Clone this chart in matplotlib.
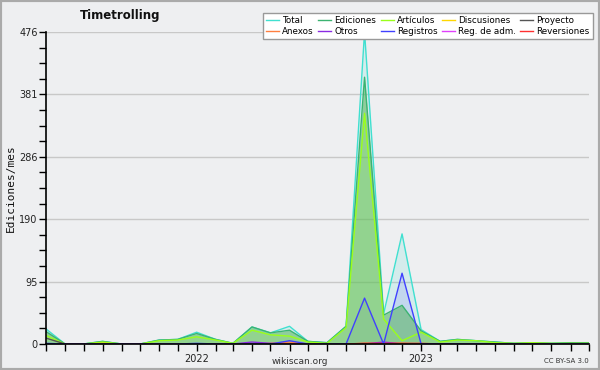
import numpy as np
import matplotlib
matplotlib.use("Agg")
import matplotlib.pyplot as plt
import matplotlib.dates as mdates
import pandas as pd

# meses: mayo 2021 - octubre 2023
meses = pd.date_range("2021-05-01", "2023-10-01", freq="MS")

total = [23, 0, 0, 4, 0, 0, 6, 7, 18, 7, 1, 26, 17, 27, 4, 2, 27, 476, 46, 168, 22, 4, 7, 5, 3, 1, 2, 1, 2, 2]
ediciones = [19, 0, 0, 4, 0, 0, 6, 7, 16, 7, 1, 26, 17, 21, 4, 2, 27, 407, 44, 59, 20, 4, 7, 5, 3, 1, 2, 1, 2, 2]
articulos = [13, 0, 0, 3, 0, 0, 5, 6, 11, 6, 1, 21, 14, 12, 3, 1, 25, 352, 38, 5, 18, 3, 6, 5, 2, 1, 2, 1, 1, 1]
discusiones = [0, 0, 0, 1, 0, 0, 0, 0, 0, 0, 0, 0, 0, 0, 0, 0, 0, 0, 0, 0, 0, 0, 0, 0, 0, 0, 0, 0, 0, 0]
proyecto = [9, 0, 0, 0, 0, 0, 0, 0, 0, 0, 0, 0, 0, 0, 0, 0, 0, 0, 0, 0, 0, 0, 0, 0, 0, 0, 0, 0, 0, 0]
anexos = [0, 0, 0, 0, 0, 0, 0, 0, 0, 0, 0, 0, 1, 3, 0, 0, 0, 1, 1, 1, 0, 0, 0, 0, 0, 0, 0, 0, 0, 0]
otros = [0, 0, 0, 0, 0, 0, 0, 0, 0, 0, 0, 3, 1, 0, 0, 0, 0, 0, 3, 0, 0, 0, 0, 0, 0, 0, 0, 0, 0, 0]
registros = [1, 0, 0, 0, 0, 0, 0, 0, 1, 0, 0, 0, 0, 5, 0, 0, 0, 70, 0, 108, 0, 0, 0, 0, 0, 0, 0, 0, 0, 0]
reg_adm = [0] * 30
reversiones = [0, 0, 0, 0, 0, 0, 0, 0, 0, 0, 0, 0, 0, 0, 0, 0, 0, 1, 1, 1, 1, 0, 0, 0, 0, 0, 0, 0, 0, 0]

fondo = "#eeeff1"
fig = plt.figure(figsize=(6, 3.7), dpi=100, facecolor=fondo)
ax = fig.add_axes([46/600, 26/370, 543/600, 312/370])
ax.set_facecolor(fondo)

# rellenos
ax.fill_between(meses, total, color="#40e0d0", alpha=0.15, lw=0)
ax.fill_between(meses, registros, color="#4444ff", alpha=0.12, lw=0)
ax.fill_between(meses, ediciones, color="#4caf50", alpha=0.5, lw=0)
ax.fill_between(meses, articulos, color="#adff2f", alpha=0.12, lw=0)

series = [
    ("Total", total, "#40e0d0"),
    ("Anexos", anexos, "#ff7f3f"),
    ("Ediciones", ediciones, "#3cb371"),
    ("Otros", otros, "#8a2be2"),
    ("Artículos", articulos, "#9aff1a"),
    ("Registros", registros, "#4040ff"),
    ("Discusiones", discusiones, "#ffd700"),
    ("Reg. de adm.", reg_adm, "#e040fb"),
    ("Proyecto", proyecto, "#555555"),
    ("Reversiones", reversiones, "#ff3030"),
]
orden_dibujo = ["Total", "Ediciones", "Artículos", "Proyecto", "Discusiones",
                "Anexos", "Otros", "Reg. de adm.", "Reversiones", "Registros"]
lineas = {}
for nombre in orden_dibujo:
    for n, v, c in series:
        if n == nombre:
            lineas[n], = ax.plot(meses, v, color=c, lw=1, label=n)

ax.set_xlim(meses[0], meses[-1])
ax.set_ylim(0, 476)
ax.set_yticks(np.linspace(0, 476, 6))
ax.set_yticklabels(["0", "95", "190", "286", "381", "476"])
ax.set_yticks(np.linspace(0, 476, 21), minor=True)
ax.xaxis.set_minor_locator(mdates.MonthLocator())
ax.xaxis.set_major_locator(mdates.YearLocator())
ax.xaxis.set_major_formatter(mdates.DateFormatter("%Y"))
ax.tick_params(axis="both", labelsize=7, length=5, width=1, color="black", labelcolor="#222222")
ax.tick_params(axis="both", which="minor", length=5, width=1)
ax.tick_params(axis="x", pad=2)
ax.tick_params(axis="y", pad=1)
ax.grid(axis="y", color="#c8c8c8", lw=1)
ax.set_axisbelow(True)
for s in ["top", "right"]:
    ax.spines[s].set_visible(False)
ax.spines["left"].set_linewidth(1.2)
ax.spines["bottom"].set_linewidth(1.2)

# etiqueta del eje y
fig.text(11/600, 1 - 188/370, "Ediciones/mes", fontsize=8, family="DejaVu Sans Mono",
         rotation=90, ha="center", va="center", color="#111111")

fig.text(120/600, 1 - 15/370, "Timetrolling", fontsize=8.5, fontweight="bold",
         ha="center", va="center", color="#111111")

handles = [lineas[n] for n, v, c in series]
leg = fig.legend(handles, [n for n, v, c in series], ncol=5, loc="upper right",
                 bbox_to_anchor=(597/600, 1 - 9/370), fontsize=6.3, frameon=True,
                 fancybox=False, handlelength=1.5, handletextpad=0.35,
                 columnspacing=0.5, labelspacing=0.15, borderpad=0.35)
leg.get_frame().set_edgecolor("#999999")
leg.get_frame().set_facecolor("white")
leg.get_frame().set_alpha(1)

fig.text(300/600, 1 - 361/370, "wikiscan.org", fontsize=6.5, ha="center", va="center", color="#333333")
fig.text(589/600, 1 - 361/370, "CC BY-SA 3.0", fontsize=5, ha="right", va="center", color="#333333")

# borde exterior
fig.patches.append(plt.Rectangle((0, 0), 1, 1, transform=fig.transFigure,
                                 fill=False, edgecolor="#aaaaaa", lw=3))

fig.savefig("out.png", dpi=100, facecolor=fondo)
